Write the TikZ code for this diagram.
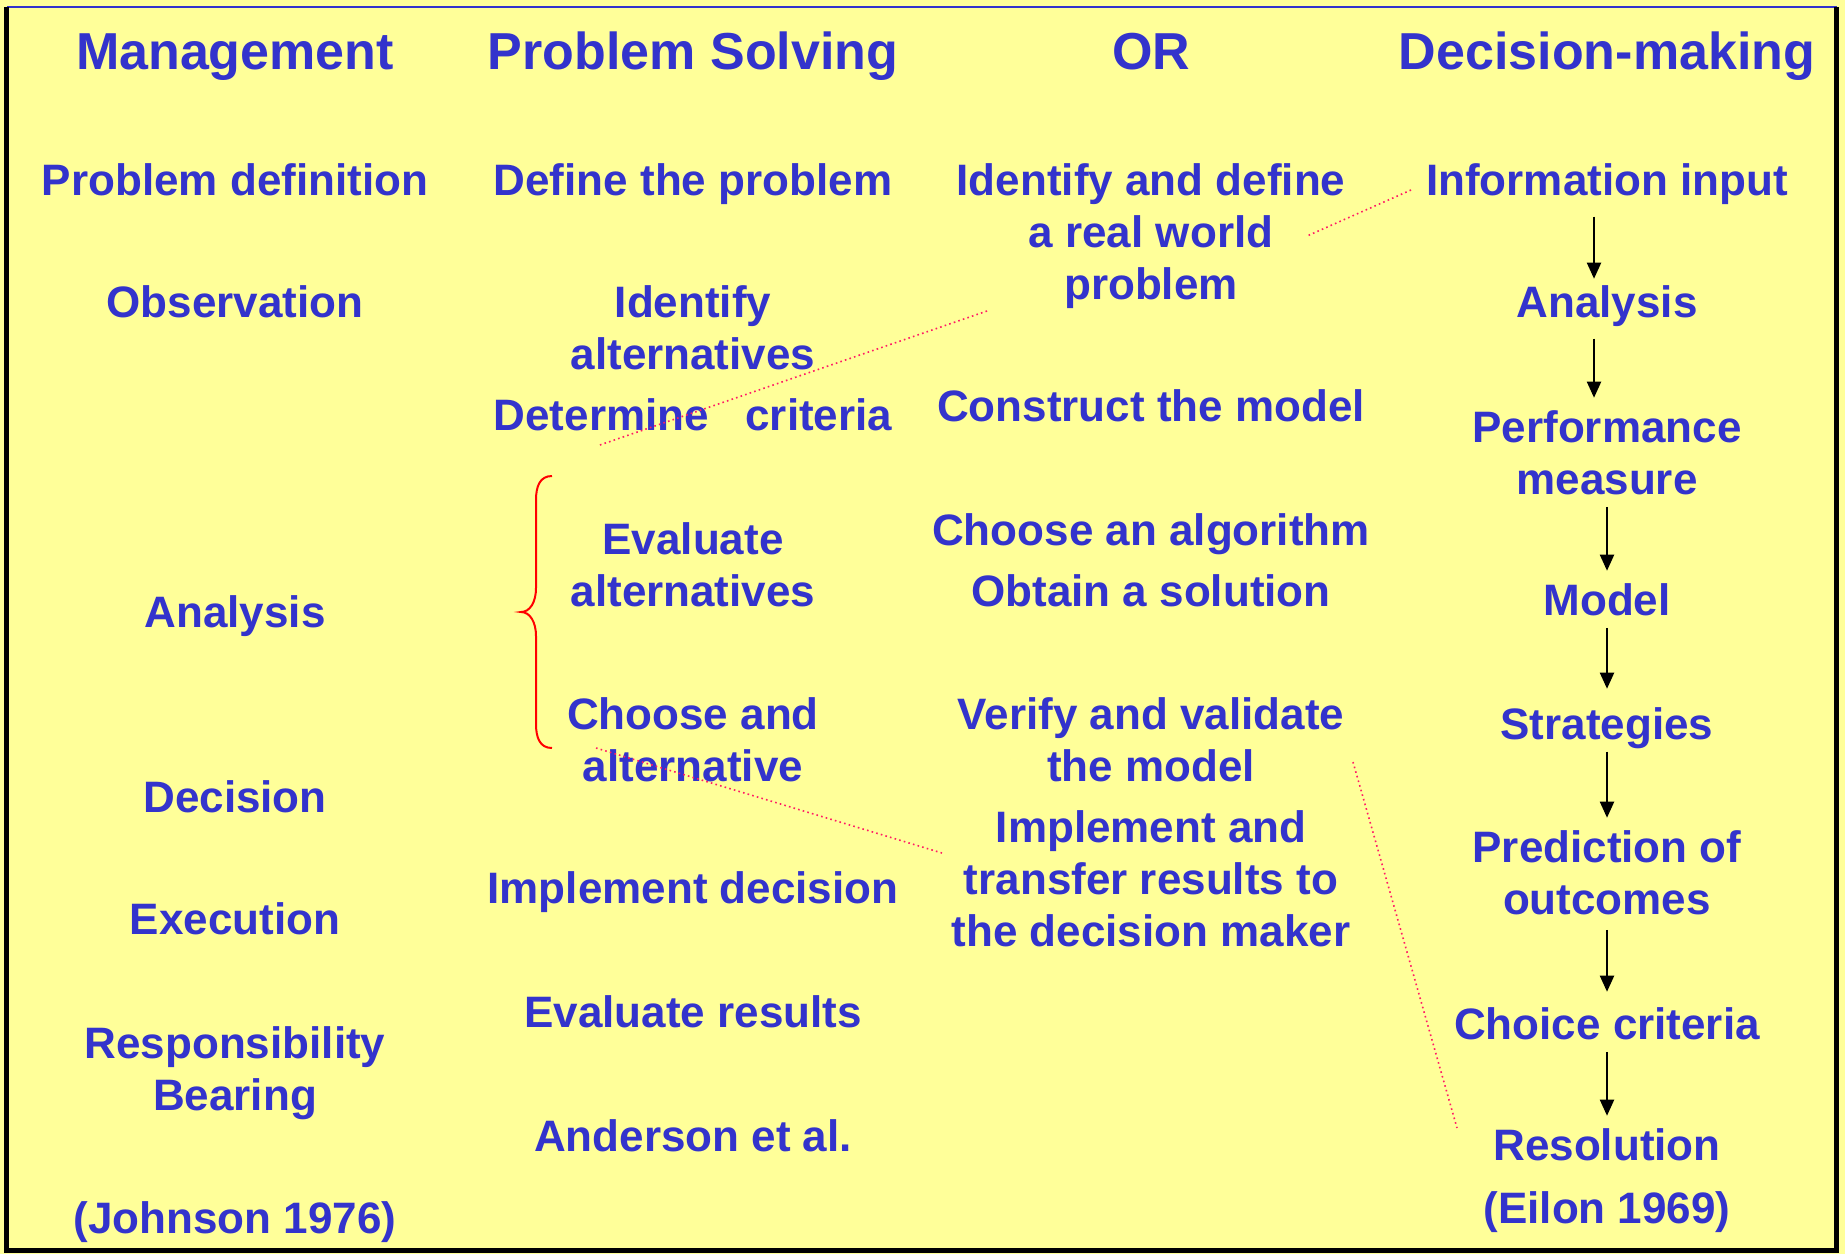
\documentclass[tikz,border=0pt]{standalone}
\usepackage{fontspec}
\setmainfont{Liberation Sans}
\usetikzlibrary{arrows.meta}
\definecolor{slideyellow}{HTML}{FFFF99}
\definecolor{inkblue}{HTML}{3333CC}
\definecolor{linkred}{HTML}{FF1A66}
\begin{document}
\begin{tikzpicture}[x=0.5pt,y=-0.5pt,
    head/.style={text=inkblue,font=\bfseries\fontsize{26pt}{30pt}\selectfont,anchor=base,inner sep=0pt},
    item/.style={text=inkblue,font=\bfseries\fontsize{22pt}{26pt}\selectfont,anchor=base,align=center,inner sep=0pt},
    flow/.style={-{Triangle[length=8pt,width=7pt]},line width=1pt,shorten <=6pt,shorten >=6pt},
    link/.style={linkred,line width=0.8pt,dash pattern=on 0.8pt off 1.6pt}]
  \useasboundingbox (0,0) rectangle (1845,1254);
  \fill[slideyellow] (0,0) rectangle (1845,1254);
  \draw[inkblue,line width=1pt] (7,7) -- (1837,7);
  \draw[line width=2.5pt] (6.5,7) -- (6.5,1250) -- (1836,1250) -- (1836,7);

  \node[head] (hman) at (235,69) {Management};
  \node[head] (hps) at (693,69) {Problem Solving};
  \node[head] (hor) at (1151,69) {OR};
  \node[head] (hdm) at (1607,69) {Decision-making};

  % Johnson
  \node[item] (pdef) at (235,195) {Problem definition};
  \node[item] (obs) at (235,317) {Observation};
  \node[item] (anl) at (235,627) {Analysis};
  \node[item] (dec) at (235,812) {Decision};
  \node[item] (exe) at (235,934) {Execution};
  \node[item] (resp) at (235,1110) {Responsibility\\Bearing};
  \node[item] (john) at (235,1233) {(Johnson 1976)};

  % Anderson et al.
  \node[item] (defp) at (693,195) {Define the problem};
  \node[item] (idalt) at (693,369) {Identify\\alternatives};
  \node[item] (detc) at (693,430) {Determine\ \ \ criteria};
  \node[item] (evalt) at (693,606) {Evaluate\\alternatives};
  \node[item] (chalt) at (693,781) {Choose and\\alternative};
  \node[item] (impd) at (693,903) {Implement decision};
  \node[item] (evres) at (693,1027) {Evaluate results};
  \node[item] (ander) at (693,1151) {Anderson et al.};
  \draw[red,line width=1pt] (552,476) .. controls (540,476) and (536,486) .. (536,500) -- (536,588)
    .. controls (536,602) and (530,612) .. (521,612) .. controls (530,612) and (536,622) .. (536,636)
    -- (536,724) .. controls (536,738) and (540,748) .. (552,748);

  % OR
  \node[item] (idef) at (1151,299) {Identify and define\\a real world\\problem};
  \node[item] (cons) at (1151,421) {Construct the model};
  \node[item] (algo) at (1151,545) {Choose an algorithm};
  \node[item] (sol) at (1151,606) {Obtain a solution};
  \node[item] (veri) at (1151,781) {Verify and validate\\the model};
  \node[item] (impl) at (1151,946) {Implement and\\transfer results to\\the decision maker};

  % Eilon
  \node[item] (info) at (1607,195) {Information input};
  \node[item] (ana) at (1607,317) {Analysis};
  \node[item] (perf) at (1607,494) {Performance\\measure};
  \node[item] (model) at (1607,615) {Model};
  \node[item] (strat) at (1607,739) {Strategies};
  \node[item] (pred) at (1607,914) {Prediction of\\outcomes};
  \node[item] (choice) at (1607,1039) {Choice criteria};
  \node[item] (resol) at (1607,1160) {Resolution};
  \node[item] (eilon) at (1607,1223) {(Eilon 1969)};

  \draw[flow,shorten >=3pt] ([xshift=-6.5pt]info.south) -- ([xshift=-6.5pt]ana.north);
  \draw[flow] ([xshift=-6.5pt]ana.south) -- ([xshift=-6.5pt]perf.north);
  \draw[flow] (perf.south) -- (model.north);
  \draw[flow,shorten >=9pt] (model.south) -- (strat.north);
  \draw[flow,shorten <=1.5pt] (strat.south) -- (pred.north);
  \draw[flow,shorten <=7.5pt,shorten >=7.5pt] (pred.south) -- (choice.north);
  \draw[flow] (choice.south) -- (resol.north);

  % dotted links
  \coordinate (l1a) at (1411,190); \coordinate (l1b) at (1307,236);
  \coordinate (l2a) at (987,311);  \coordinate (l2b) at (597,446);
  \coordinate (l3a) at (596,748);  \coordinate (l3b) at (942,853);
  \coordinate (l4a) at (1353,762); \coordinate (l4b) at (1457,1128);
  \draw[link] (l1a) -- (l1b);
  \draw[link] (l2a) -- (l2b);
  \draw[link] (l3a) -- (l3b);
  \draw[link] (l4a) -- (l4b);
\end{tikzpicture}
\end{document}
